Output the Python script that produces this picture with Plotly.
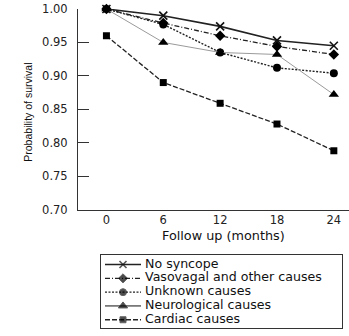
import plotly.graph_objects as go

# ---- data ----
months = [0, 6, 12, 18, 24]
series_names = ["No syncope", "Vasovagal and other causes", "Unknown causes",
                "Neurological causes", "Cardiac causes"]
no_syncope = [1.000, 0.990, 0.974, 0.953, 0.945]
vasovagal = [1.000, 0.979, 0.960, 0.944, 0.932]
unknown = [1.000, 0.977, 0.935, 0.912, 0.904]
neurological = [1.000, 0.950, 0.935, 0.932, 0.872]
cardiac = [0.960, 0.890, 0.859, 0.828, 0.788]
y_ticks = [0.70, 0.75, 0.80, 0.85, 0.90, 0.95, 1.00]

series_values = [no_syncope, vasovagal, unknown, neurological, cardiac]

# ---- styles ----
styles = [
    dict(line=dict(color="#222", width=1.6, dash="solid"),
         marker=dict(symbol="x-thin", size=8, line=dict(width=1.6, color="#111"), color="#111")),
    dict(line=dict(color="#222", width=1.3, dash="5px,2px,1px,2px"),
         marker=dict(symbol="diamond", size=8, color="#000")),
    dict(line=dict(color="#222", width=1.4, dash="2px,1.5px"),
         marker=dict(symbol="circle", size=8, color="#000")),
    dict(line=dict(color="#9a9a9a", width=1, dash="solid"),
         marker=dict(symbol="triangle-up", size=9, color="#000")),
    dict(line=dict(color="#222", width=1.3, dash="5px,2px"),
         marker=dict(symbol="square", size=7, color="#000")),
]
legend_line_colors = ["#222", "#222", "#222", "#111", "#222"]

W, H = 349, 336
ML, MT = 78, 9
plot_w = W - ML
plot_h = H - MT
axis_bottom_px = 214

fig = go.Figure()

for name, vals, st in zip(series_names, series_values, styles):
    fig.add_trace(go.Scatter(
        x=months, y=vals, name=name, mode="lines+markers",
        line=st["line"], marker=st["marker"], showlegend=False,
        xaxis="x", yaxis="y", cliponaxis=False))

# ---- hand-drawn legend in its own small axes ----
LEG_X0, LEG_X1, LEG_MARK, LEG_TEXT = 4, 40, 22, 44
for i, (name, st, lc) in enumerate(zip(series_names, styles, legend_line_colors)):
    line = dict(st["line"])
    line["color"] = lc
    m = dict(st["marker"])
    m["size"] = [0, max(st["marker"]["size"] - 1, 6), 0]
    fig.add_trace(go.Scatter(
        x=[LEG_X0, LEG_MARK, LEG_X1], y=[i, i, i], mode="lines+markers",
        line=line, marker=m, showlegend=False, hoverinfo="skip",
        xaxis="x3", yaxis="y3"))
fig.add_trace(go.Scatter(
    x=[LEG_TEXT] * len(series_names), y=list(range(len(series_names))),
    mode="text", text=series_names, textposition="middle right",
    textfont=dict(family="DejaVu Sans", size=12.6, color="#111"),
    showlegend=False, hoverinfo="skip", xaxis="x3", yaxis="y3"))

mid_ticks = [(a + b) / 2 for a, b in zip(months[:-1], months[1:])]

axis_col = "#333"
tick_font = dict(family="DejaVu Sans", size=11.5, color="#222")

leg_left, leg_right = 101, 342
leg_top, leg_bot = 260, 335

fig.update_layout(
    width=W, height=H,
    margin=dict(l=ML, r=0, t=MT, b=0, pad=0),
    paper_bgcolor="white", plot_bgcolor="white",
    hovermode=False,
    xaxis=dict(range=[-3.0, 25.6], tickvals=months, ticktext=[str(m) for m in months],
               ticks="", showline=True, linecolor=axis_col, linewidth=1,
               showgrid=False, zeroline=False, tickfont=tick_font,
               anchor="y", domain=[0, 1]),
    xaxis2=dict(overlaying="x", matches="x", tickvals=mid_ticks, ticks="inside",
                ticklen=6, tickcolor=axis_col, tickwidth=1, showticklabels=False,
                showline=False, showgrid=False, zeroline=False, anchor="y", side="bottom"),
    yaxis=dict(range=[0.70, 1.00], tickvals=y_ticks,
               ticktext=[f"{v:.2f}" for v in y_ticks],
               ticks="inside", ticklen=11, tickcolor=axis_col, tickwidth=1,
               showline=True, linecolor=axis_col, linewidth=1,
               showgrid=False, zeroline=False, tickfont=tick_font,
               ticklabelstandoff=7, ticklabeloverflow="allow",
               domain=[(H - axis_bottom_px) / plot_h, 1], anchor="x"),
    xaxis3=dict(range=[0, leg_right - leg_left],
                domain=[(leg_left - ML) / plot_w, (leg_right - ML) / plot_w],
                showline=True, mirror=True, linecolor=axis_col, linewidth=1,
                showticklabels=False, ticks="", showgrid=False, zeroline=False,
                anchor="y3", fixedrange=True),
    yaxis3=dict(range=[4.6, -0.72],
                domain=[(H - leg_bot) / plot_h, (H - leg_top) / plot_h],
                showline=True, mirror=True, linecolor=axis_col, linewidth=1,
                showticklabels=False, ticks="", showgrid=False, zeroline=False,
                anchor="x3", fixedrange=True),
    annotations=[
        dict(text="Follow up (months)", xref="paper", yref="paper",
             x=(223.5 - ML) / plot_w, y=(H - 240) / plot_h,
             xanchor="center", yanchor="middle", showarrow=False,
             font=dict(family="DejaVu Sans", size=12.8, color="#111")),
        dict(text="Probability of survival", xref="paper", yref="paper",
             x=(28 - ML) / plot_w, y=(H - 115) / plot_h, textangle=-90,
             xanchor="center", yanchor="middle", showarrow=False,
             font=dict(family="Liberation Sans", size=10.5, color="#111")),
    ],
)

# remove the browser's default 8px body margin so the figure sits at (0, 0)
fig.write_html("out.html",
               config={"displayModeBar": False, "staticPlot": True},
               post_script="document.body.style.margin='0';document.body.style.overflow='hidden';")
